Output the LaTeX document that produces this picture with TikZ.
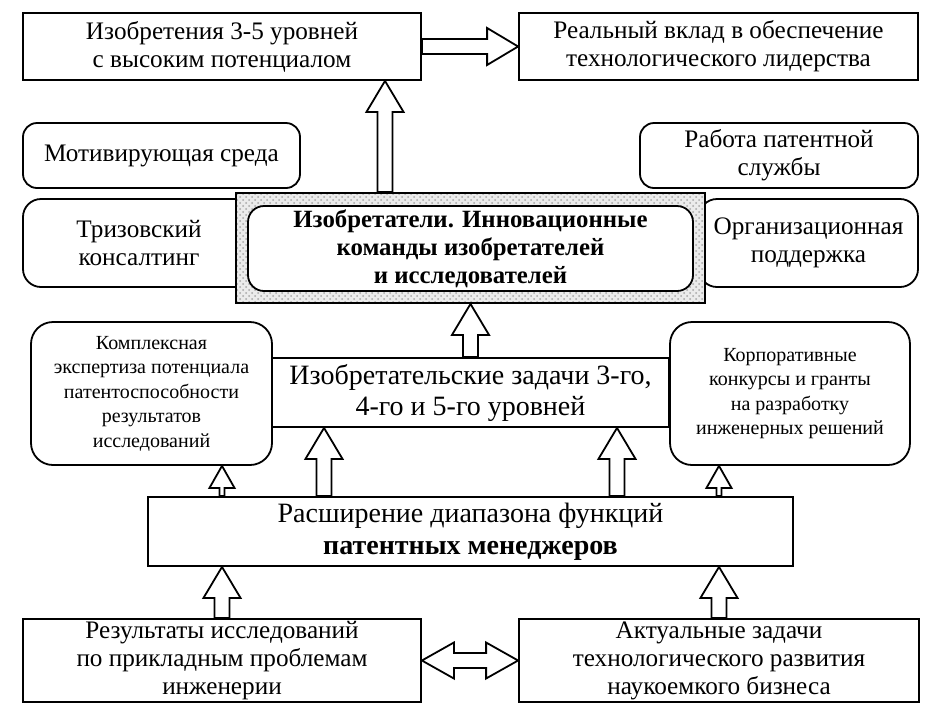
\documentclass[tikz,border=0pt]{standalone}
\usepackage{fontspec}
\setmainfont{Liberation Serif}
\usetikzlibrary{calc}
\usetikzlibrary{patterns}
\usetikzlibrary{positioning}

% hollow block arrow: from, to, shaft half width, head half width, head length
\newcommand{\blockarrow}[5]{%
	\path #1 coordinate (ba-s) #2 coordinate (ba-t);
	\coordinate (ba-h) at ($(ba-t)!#5!(ba-s)$);
	\draw [fill=white] ($(ba-s)!#3!90:(ba-t)$) -- ($(ba-h)!#3!90:(ba-t)$)
		-- ($(ba-h)!#4!90:(ba-t)$) -- (ba-t) -- ($(ba-h)!#4!-90:(ba-t)$)
		-- ($(ba-h)!#3!-90:(ba-t)$) -- ($(ba-s)!#3!-90:(ba-t)$) -- cycle;
}
\newcommand{\blockboth}[5]{%
	\path #1 coordinate (ba-s) #2 coordinate (ba-t);
	\coordinate (ba-h) at ($(ba-t)!#5!(ba-s)$);
	\coordinate (ba-g) at ($(ba-s)!#5!(ba-t)$);
	\draw [fill=white] (ba-s) -- ($(ba-g)!#4!90:(ba-t)$) -- ($(ba-g)!#3!90:(ba-t)$)
		-- ($(ba-h)!#3!90:(ba-t)$) -- ($(ba-h)!#4!90:(ba-t)$) -- (ba-t)
		-- ($(ba-h)!#4!-90:(ba-t)$) -- ($(ba-h)!#3!-90:(ba-t)$)
		-- ($(ba-g)!#3!-90:(ba-t)$) -- ($(ba-g)!#4!-90:(ba-t)$) -- cycle;
}
\newcommand{\bigarrow}[2]{\blockarrow{#1}{#2}{3.75pt}{9.25pt}{15.5pt}}
\newcommand{\smallarrow}[2]{\blockarrow{#1}{#2}{1.25pt}{6.25pt}{11pt}}

\begin{document}
\begin{tikzpicture}[x=0.5pt, y=-0.5pt, line width=0.9pt,
	font=\fontsize{12.6}{14}\selectfont,
	box/.style={rectangle, draw, align=center, inner sep=0pt},
	rbox/.style={box, rounded corners=7pt},
	small/.style={font=\fontsize{10}{12.25}\selectfont},
]
\useasboundingbox (0,0) rectangle (937,719);
% top row
\node [box, minimum width=199pt, minimum height=33.5pt] (inv) at (222,46.5)
	{Изобретения 3-5 уровней\\с высоким потенциалом};
\node [box, minimum width=199.5pt, minimum height=33.5pt] (lead) at (718.5,46.5)
	{Реальный вклад в обеспечение\\технологического лидерства};
% environment
\node [rbox, minimum width=138.5pt, minimum height=32.5pt] (motiv) at (161.5,155.5)
	{Мотивирующая среда};
\node [rbox, minimum width=139pt, minimum height=32.5pt] (patent) at (779,155.5)
	{Работа патентной\\службы};
\node [rbox, rounded corners=9pt, minimum width=116pt, minimum height=44pt] (triz) at (139,243)
	{Тризовский\\консалтинг};
\node [rbox, rounded corners=9pt, minimum width=109.5pt, minimum height=44pt] (org) at (808.5,243)
	{Организационная\\поддержка};
% inventors
\node [box, minimum width=234.5pt, minimum height=55pt, preaction={fill=black!8},
	pattern=crosshatch dots, pattern color=black!35] (team) at (470.5,248) {};
\node [rbox, rounded corners=8pt, fill=white, minimum width=222.5pt, minimum height=42.5pt,
	font=\fontsize{12.4}{14}\selectfont\bfseries] (inner) at (470.5,248.5)
	{Изобретатели. Инновационные\\команды изобретателей\\и исследователей};
% tasks
\node [rbox, small, rounded corners=11pt, minimum width=120.5pt, minimum height=71.5pt] (expert) at (151.5,393.5)
	{Комплексная\\экспертиза потенциала\\патентоспособности\\результатов\\исследований};
\node [rbox, small, rounded corners=11pt, minimum width=120pt, minimum height=71.5pt] (grants) at (790,393.5)
	{Корпоративные\\конкурсы и гранты\\на разработку\\инженерных решений};
\node [box, minimum width=198.5pt, minimum height=34.5pt, font=\fontsize{14}{15.5}\selectfont] (tasks) at (470.5,392.5)
	{Изобретательские задачи 3-го,\\4-го и 5-го уровней};
\node [box, minimum width=322.5pt, minimum height=34.5pt, font=\fontsize{14}{16}\selectfont] (managers) at (470.5,531.5)
	{Расширение диапазона функций\\\textbf{патентных менеджеров}};
% sources
\node [box, minimum width=199pt, minimum height=41.5pt] (research) at (222,660.5)
	{Результаты исследований\\по прикладным проблемам\\инженерии};
\node [box, minimum width=200pt, minimum height=41.5pt] (business) at (719,660.5)
	{Актуальные задачи\\технологического развития\\наукоемкого бизнеса};
%
\coordinate (up) at ([xshift=-42.75pt]team.north);
\coordinate (m1) at ([xshift=-73.25pt]managers.north);
\coordinate (m2) at ([xshift=73.25pt]managers.north);
\bigarrow{(inv.east)}{(lead.west)}
\bigarrow{(up)}{(up |- inv.south)}
\bigarrow{(tasks.north)}{(team.south)}
\bigarrow{(m1)}{(m1 |- tasks.south)}
\bigarrow{(m2)}{(m2 |- tasks.south)}
\smallarrow{(research.north |- managers.north)}{(research.north |- expert.south)}
\smallarrow{(business.north |- managers.north)}{(business.north |- grants.south)}
\bigarrow{(research.north)}{(research.north |- managers.south)}
\bigarrow{(business.north)}{(business.north |- managers.south)}
\blockboth{(research.east)}{(business.west)}{3.75pt}{9pt}{16pt}
\end{tikzpicture}
\end{document}
